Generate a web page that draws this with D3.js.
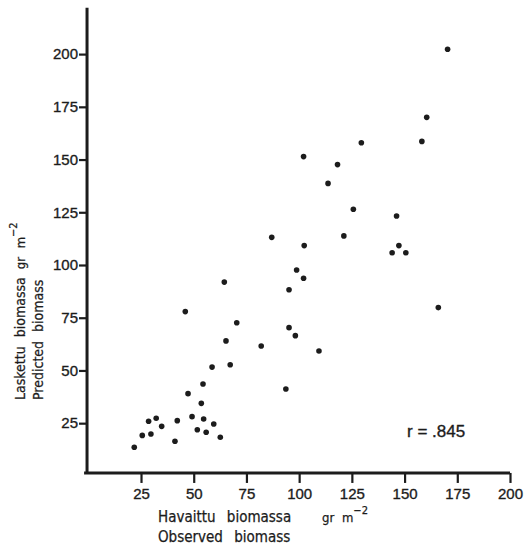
<!DOCTYPE html>
<html>
<head>
<meta charset="utf-8">
<script src="https://cdn.jsdelivr.net/npm/d3@7/dist/d3.min.js"></script>
<style>
  html, body { margin: 0; padding: 0; background: #ffffff; }
  svg { display: block; }
  .tick text { font-family: "Liberation Sans", Arial, sans-serif; font-size: 15px; fill: #1c1c1c; stroke: #1c1c1c; stroke-width: 0.35px; }
  .title { font-family: "DejaVu Sans Condensed", "DejaVu Sans", sans-serif; fill: #1c1c1c; stroke: #1c1c1c; stroke-width: 0.25px; }
</style>
</head>
<body>
<svg id="chart" width="526" height="548"></svg>
<script>
// Observed vs. predicted biomass (gr m^-2)
const xTicks = [25, 50, 75, 100, 125, 150, 175, 200];
const yTicks = [25, 50, 75, 100, 125, 150, 175, 200];

const observed = [
  170.4, 160.5, 158.2, 129.5, 102.1, 118.2, 113.7, 125.7, 146.2, 121.2,
  87.0, 102.4, 147.3, 144.1, 150.6, 98.8, 102.1, 64.5, 95.2, 166.0,
  46.0, 70.4, 95.2, 98.2, 65.3, 82.0, 109.4, 67.3, 58.7, 54.4,
  93.7, 47.3, 53.6, 49.2, 32.2, 54.7, 42.2, 28.6, 59.5, 34.8,
  51.7, 55.9, 29.7, 25.6, 62.6, 41.1, 21.8
];
const predicted = [
  202.3, 170.0, 158.6, 158.0, 151.4, 147.6, 138.7, 126.4, 123.2, 113.8,
  113.1, 109.2, 109.2, 105.8, 105.8, 97.6, 93.7, 91.9, 88.3, 79.8,
  77.9, 72.6, 70.3, 66.5, 64.0, 61.6, 59.2, 52.7, 51.6, 43.6,
  41.2, 39.0, 34.4, 28.1, 27.3, 27.0, 26.2, 25.9, 24.6, 23.5,
  21.9, 20.7, 19.9, 19.2, 18.3, 16.4, 13.6
];
const correlation = ".845";

const ink = "#1c1c1c";
const svg = d3.select("#chart");

const x = d3.scaleLinear().domain([0, 200]).range([88.3, 510]);
const y = d3.scaleLinear().domain([0, 200]).range([475.9, 54.1]);

const axisX = x(-0.6);   // vertical axis position
const axisY = y(1.4);    // horizontal axis position

// Frame: vertical axis running above the top tick, horizontal axis to 200
svg.append("path")
  .attr("d", `M${axisX},${y(222)} V${axisY} M${x(-2)},${axisY} H${x(200)}`)
  .attr("fill", "none")
  .attr("stroke", ink)
  .attr("stroke-width", 3);

// Bottom axis
const gx = svg.append("g")
  .attr("transform", `translate(0,${axisY})`)
  .call(d3.axisBottom(x).tickValues(xTicks).tickSize(10).tickSizeOuter(0).tickPadding(5));
gx.select(".domain").remove();
gx.selectAll(".tick line").attr("stroke", ink).attr("stroke-width", 2.2);

// Left axis
const gy = svg.append("g")
  .attr("transform", `translate(${axisX},0)`)
  .call(d3.axisLeft(y).tickValues(yTicks).tickSize(8).tickSizeOuter(0).tickPadding(1));
gy.select(".domain").remove();
gy.selectAll(".tick line").attr("stroke", ink).attr("stroke-width", 2.2);

// Points
svg.append("g")
  .selectAll("circle")
  .data(observed.map((v, i) => [v, predicted[i]]))
  .join("circle")
  .attr("cx", d => x(d[0]))
  .attr("cy", d => y(d[1]))
  .attr("r", 2.8)
  .attr("fill", ink);

// Correlation coefficient
svg.append("text")
  .attr("x", 407).attr("y", 437)
  .attr("font-family", "Liberation Sans, Arial, sans-serif")
  .attr("font-size", 17)
  .attr("fill", ink)
  .attr("stroke", ink)
  .attr("stroke-width", 0.35)
  .text(`r = ${correlation}`);

// X-axis title
const xt = svg.append("g").attr("class", "title");
xt.append("text").attr("x", 158).attr("y", 522).attr("font-size", 15)
  .attr("word-spacing", 7).text("Havaittu biomassa");
xt.append("text").attr("x", 158).attr("y", 542).attr("font-size", 15)
  .attr("word-spacing", 7).text("Observed biomass");
const xu = xt.append("text").attr("x", 322).attr("y", 522).attr("font-size", 13).attr("word-spacing", 4);
xu.append("tspan").text("gr m");
xu.append("tspan").attr("dy", -8).attr("font-size", 11).text("−2");

// Y-axis title
const yt = svg.append("g").attr("class", "title");
const yl1 = yt.append("text").attr("transform", "translate(25,400) rotate(-90)").attr("font-size", 14)
  .attr("word-spacing", 5);
yl1.append("tspan").text("Laskettu biomassa");
yl1.append("tspan").attr("dx", 8).attr("font-size", 13).text("gr m");
yl1.append("tspan").attr("dy", -8).attr("font-size", 11).text("−2");
yt.append("text").attr("transform", "translate(43,400) rotate(-90)").attr("font-size", 14)
  .attr("word-spacing", 5).text("Predicted biomass");
</script>
</body>
</html>
